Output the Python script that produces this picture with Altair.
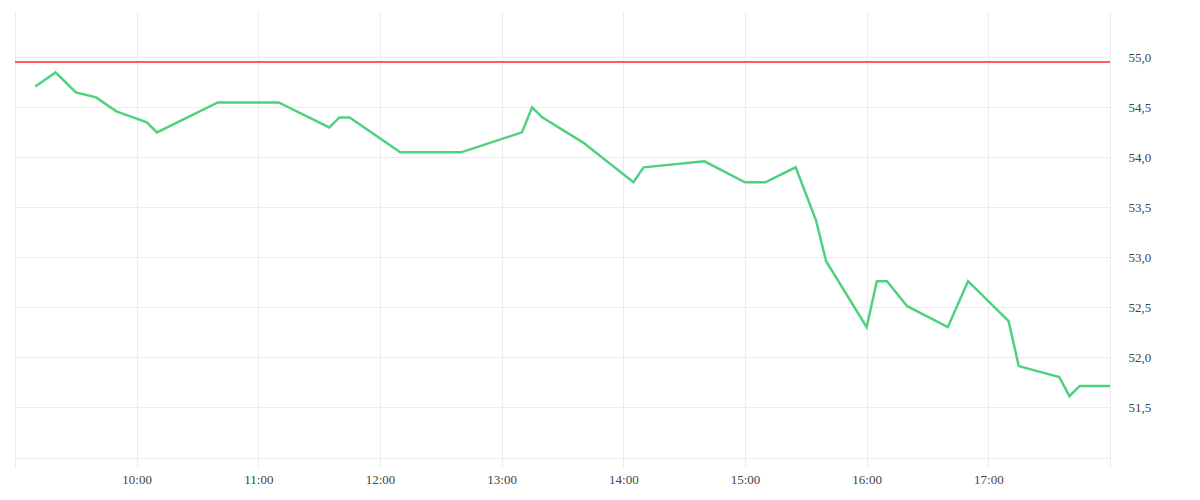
import altair as alt
import pandas as pd

times = ["09:10", "09:20", "09:30", "09:40", "09:50", "10:05", "10:10", "10:40",
         "11:10", "11:35", "11:40", "11:45", "12:10", "12:40", "13:10", "13:15",
         "13:20", "13:40", "14:05", "14:10", "14:40", "15:00", "15:10", "15:25",
         "15:35", "15:40", "16:00", "16:05", "16:10", "16:20", "16:40", "16:50",
         "17:10", "17:15", "17:35", "17:40", "17:45", "18:00"]
prices = [54.71, 54.85, 54.65, 54.60, 54.46, 54.35, 54.25, 54.55,
          54.55, 54.30, 54.40, 54.40, 54.05, 54.05, 54.25, 54.50,
          54.40, 54.15, 53.75, 53.90, 53.96, 53.75, 53.75, 53.90,
          53.37, 52.96, 52.30, 52.76, 52.76, 52.51, 52.30, 52.76,
          52.36, 51.91, 51.80, 51.61, 51.71, 51.71]
reference_level = 54.95
y_ticks = [51.5, 52.0, 52.5, 53.0, 53.5, 54.0, 54.5, 55.0]
hour_ticks = list(range(9, 19))

df = pd.DataFrame({"time": ["2024-01-01T" + t + ":00" for t in times], "price": prices})

FONT = "Liberation Serif"
GRID = "#ececec"

x_scale = alt.Scale(domain=[alt.DateTime(year=2024, month=1, date=1, hours=9),
                            alt.DateTime(year=2024, month=1, date=1, hours=18)])
y_scale = alt.Scale(domain=[50.99, 55.455], nice=False, zero=False)

x_axis = alt.Axis(
    values=[alt.DateTime(year=2024, month=1, date=1, hours=h) for h in hour_ticks],
    labelExpr="hours(datum.value) == 9 || hours(datum.value) == 18 ? '' : timeFormat(datum.value, '%H:%M')",
    title=None, grid=True, gridColor=GRID, domainColor=GRID, tickColor=GRID,
    tickSize=9, labelPadding=6, labelFont=FONT, labelFontSize=13, labelColor="#444444",
)
y_axis = alt.Axis(
    orient="right", values=y_ticks,
    labelExpr="replace(format(datum.value, '.1f'), '.', ',')",
    title=None, grid=True, gridColor=GRID, domain=False, ticks=False, tickSize=0,
    labelPadding=18, labelFont=FONT, labelFontSize=13, labelColor="#444444",
)

line = alt.Chart(df).mark_line(color="#4fd27e", strokeWidth=2.5).encode(
    x=alt.X("time:T", scale=x_scale, axis=x_axis),
    y=alt.Y("price:Q", scale=y_scale, axis=y_axis),
)

rule = alt.Chart(df).mark_rule(color="#ff5a5f", strokeWidth=1).encode(
    y=alt.datum(reference_level, scale=y_scale),
)

chart = alt.layer(rule, line).properties(
    width=1095, height=446,
    padding={"left": 6, "top": 4, "right": 5, "bottom": 5},
).configure_view(stroke=None)

chart.save("out.html", embed_options={"renderer": "svg", "actions": False})
